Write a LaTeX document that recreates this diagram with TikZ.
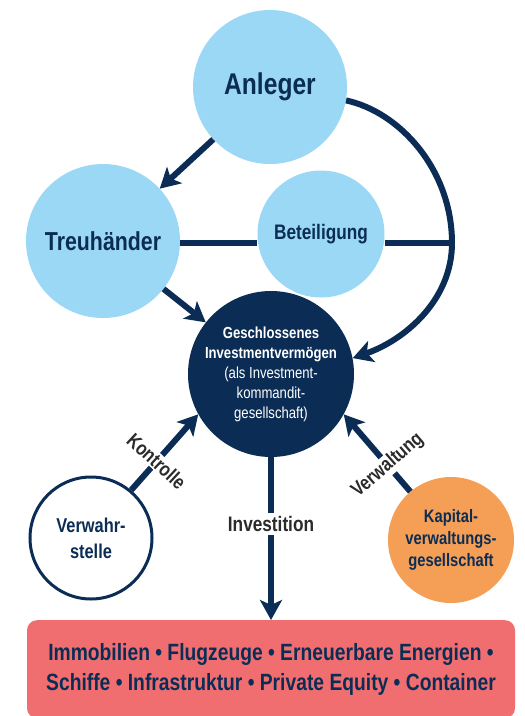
\documentclass[tikz,border=0pt]{standalone}
\usepackage{fontspec}
\setmainfont{Liberation Sans}[FakeStretch=0.82]
\usepackage{xcolor}
\usetikzlibrary{arrows.meta}

\definecolor{navy}{HTML}{0B2D55}
\definecolor{hellblau}{HTML}{9BD8F5}
\definecolor{kvgorange}{HTML}{F59E56}
\definecolor{lachs}{HTML}{F06E70}
\definecolor{schrift}{HTML}{2B2B2B}

\tikzset{
  kreis/.style={circle, fill=hellblau, text=navy, inner sep=0pt, minimum size=154pt},
  linie/.style={line width=6pt, color=navy},
  pfeil/.style={linie, -{Stealth[length=20pt,width=22pt,inset=5pt]}},
  etikett/.style={fill=white, text=schrift, inner sep=1pt,
    font=\bfseries\fontsize{20}{24}\selectfont},
}

\begin{document}
\begin{tikzpicture}[x=1pt, y=-1pt]

	\useasboundingbox (0,0) rectangle (525,716);

	% circles on top
	\node[kreis, font=\bfseries\fontsize{30}{36}\selectfont] (anleger) at (270,87) {Anleger};
	\node[kreis, font=\bfseries\fontsize{26}{30}\selectfont] (treu) at (103,241) {Treuhänder};
	\node[kreis, minimum size=127pt, font=\bfseries\fontsize{21}{25}\selectfont] (beteil) at (321,234) {Beteiligung};

	% fund in the middle
	\node[circle, fill=navy, text=white, minimum size=166pt, inner sep=0pt, align=center,
	    font=\fontsize{16}{20}\selectfont] (fonds) at (271,374)
	    {\textbf{Geschlossenes}\\\textbf{Investmentvermögen}\\(als Investment-\\kommandit-\\gesellschaft)};

	% bottom row
	\node[circle, draw=navy, line width=3pt, fill=white, minimum size=122pt, inner sep=0pt,
	    text=navy, align=center, font=\bfseries\fontsize{20}{26}\selectfont] (verw) at (91,538)
	    {Verwahr-\\stelle};
	\node[circle, fill=kvgorange, minimum size=126pt, inner sep=0pt, text=navy, align=center,
	    font=\bfseries\fontsize{18}{22}\selectfont] (kvg) at (451,540)
	    {Kapital-\\verwaltungs-\\gesellschaft};

	\node[fill=lachs, rounded corners=10pt, minimum width=488pt, minimum height=98pt, anchor=north,
	    text=navy, align=center, font=\bfseries\fontsize{23.5}{30}\selectfont] (anlagen) at (271,620)
	    {Immobilien • Flugzeuge • Erneuerbare Energien •\\Schiffe • Infrastruktur • Private Equity • Container};

	% big arc on the right
	\coordinate (bogen) at (452,243);
	\draw[pfeil] (anleger.-10) ..
	    controls (400,112) and (452,170)
	    .. (bogen) ..
	    controls (452,300) and (405,340)
	    .. (fonds.11);

	% Treuhaender -- Beteiligung -- arc
	\draw[linie] (treu.east |- bogen) -- (beteil.west |- bogen);
	\draw[linie] (beteil.east |- bogen) -- (bogen);

	\draw[pfeil] (anleger) -- (treu);
	\draw[pfeil] (treu) -- (fonds);

	% labelled arrows
	\draw[pfeil] (verw.50) -- (fonds.209)
	    node[pos=0.38, etikett, rotate=-43] (kontrolle) {Kontrolle};
	\draw[pfeil] (kvg.130) -- (fonds.331)
	    node[pos=0.34, etikett, rotate=41] (verwaltung) {Verwaltung};
	\draw[pfeil] (fonds.south) -- (anlagen.north)
	    node[pos=0.41, etikett, font=\bfseries\fontsize{21}{25}\selectfont, inner sep=3pt] (invest) {Investition};

\end{tikzpicture}
\end{document}
